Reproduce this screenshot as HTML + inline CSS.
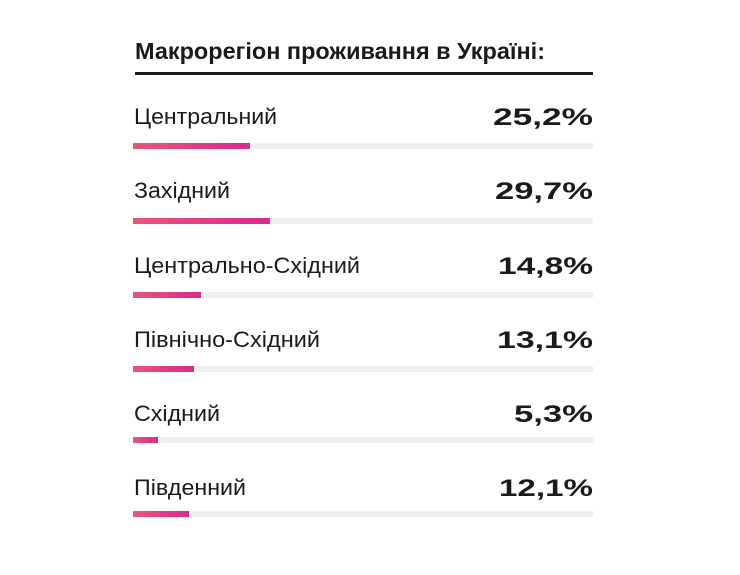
<!DOCTYPE html>
<html><head><meta charset="utf-8"><style>
html,body{margin:0;padding:0;background:#fff;}
svg{display:block}
.l{font-family:"Liberation Sans",sans-serif;font-size:22px;fill:#1a1a1a}
.v{font-family:"Liberation Sans",sans-serif;font-size:24px;font-weight:bold;fill:#1a1a1a}
</style></head><body>
<svg width="740" height="575" xmlns="http://www.w3.org/2000/svg">
<defs><linearGradient id="g" x1="0" x2="1"><stop offset="0" stop-color="#e8567a"/><stop offset="1" stop-color="#d62a8e"/></linearGradient></defs>
<text x="135" y="59" font-family="Liberation Sans,sans-serif" font-size="23" font-weight="bold" fill="#1a1a1a" textLength="410" lengthAdjust="spacingAndGlyphs">Макрорегіон проживання в Україні:</text>
<rect x="135" y="72" width="458" height="3" fill="#1a1a1a"/>
<g>
<text class="l" x="134" y="124" textLength="143" lengthAdjust="spacingAndGlyphs">Центральний</text><text class="v" x="493" y="125" textLength="100" lengthAdjust="spacingAndGlyphs">25,2%</text>
<rect x="133" y="143" width="460" height="6" fill="#efefef"/><rect x="133" y="143" width="117" height="6" fill="url(#g)"/>
<text class="l" x="134" y="198" textLength="96" lengthAdjust="spacingAndGlyphs">Західний</text><text class="v" x="495" y="199" textLength="98" lengthAdjust="spacingAndGlyphs">29,7%</text>
<rect x="133" y="218" width="460" height="6" fill="#efefef"/><rect x="133" y="218" width="137" height="6" fill="url(#g)"/>
<text class="l" x="134" y="273" textLength="226" lengthAdjust="spacingAndGlyphs">Центрально-Східний</text><text class="v" x="498" y="274" textLength="95" lengthAdjust="spacingAndGlyphs">14,8%</text>
<rect x="133" y="292" width="460" height="6" fill="#efefef"/><rect x="133" y="292" width="68" height="6" fill="url(#g)"/>
<text class="l" x="134" y="347" textLength="186" lengthAdjust="spacingAndGlyphs">Північно-Східний</text><text class="v" x="497" y="348" textLength="96" lengthAdjust="spacingAndGlyphs">13,1%</text>
<rect x="133" y="366" width="460" height="6" fill="#efefef"/><rect x="133" y="366" width="61" height="6" fill="url(#g)"/>
<text class="l" x="134" y="421" textLength="86" lengthAdjust="spacingAndGlyphs">Східний</text><text class="v" x="514" y="422" textLength="79" lengthAdjust="spacingAndGlyphs">5,3%</text>
<rect x="133" y="437" width="460" height="6" fill="#efefef"/><rect x="133" y="437" width="25" height="6" fill="url(#g)"/>
<text class="l" x="134" y="495" textLength="112" lengthAdjust="spacingAndGlyphs">Південний</text><text class="v" x="499" y="496" textLength="94" lengthAdjust="spacingAndGlyphs">12,1%</text>
<rect x="133" y="511" width="460" height="6" fill="#efefef"/><rect x="133" y="511" width="56" height="6" fill="url(#g)"/>
</g>
</svg>
</body></html>
